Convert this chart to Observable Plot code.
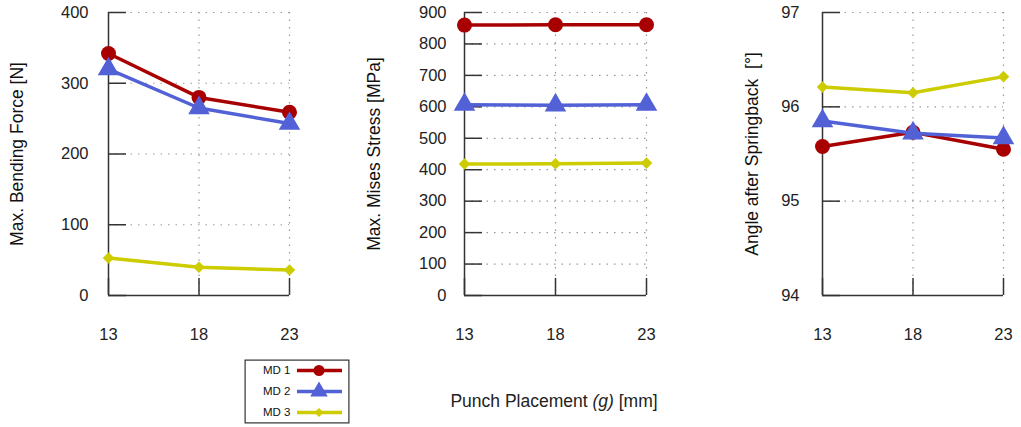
<!DOCTYPE html>
<html>
<head>
<meta charset="utf-8">
<script src="https://cdn.jsdelivr.net/npm/d3@7"></script>
<script src="https://cdn.jsdelivr.net/npm/@observablehq/plot@0.6"></script>
<style>
  body { margin: 0; background: #fff; }
  #chart { position: relative; width: 1021px; height: 427px; background: #fff; font-family: "Liberation Sans", Arial, sans-serif; }
  .panel { position: absolute; top: 0; }
  #legend { position: absolute; left: 244px; top: 359px; }
  #xtitle { position: absolute; left: 554px; top: 391px; transform: translateX(-50%); font-size: 17.5px; color: #222; white-space: nowrap; }
</style>
</head>
<body>
<div id="chart">
  <div id="p1" class="panel" style="left:0px"></div>
  <div id="p2" class="panel" style="left:340px"></div>
  <div id="p3" class="panel" style="left:680px"></div>
  <div id="legend"></div>
  <div id="xtitle">Punch Placement <i>(g)</i> [mm]</div>
</div>
<script>
// ---- data ----
const positions = [13, 18, 23];
const series = ["MD 1", "MD 2", "MD 3"];
const colors = ["#a80000", "#5262d6", "#cccc00"];
const symbols = ["circle", "triangle", "diamond2"];

const forceMD1 = [342, 280, 259];
const forceMD2 = [320, 265, 243];
const forceMD3 = [53, 40, 36];

const stressMD1 = [860, 861, 861];
const stressMD2 = [607, 605, 607];
const stressMD3 = [418, 419, 421];

const angleMD1 = [95.58, 95.73, 95.55];
const angleMD2 = [95.85, 95.72, 95.67];
const angleMD3 = [96.21, 96.15, 96.32];

const forceTicks = [0, 100, 200, 300, 400];
const stressTicks = [0, 100, 200, 300, 400, 500, 600, 700, 800, 900];
const angleTicks = [94, 95, 96, 97];

const titles = ["Max. Bending Force [N]", "Max. Mises Stress [MPa]", "Angle after Springback  [°]"];

// ---- drawing ----
const dotR = [7.5, 8, 5.2];
const font = "'Liberation Sans', Arial, sans-serif";

function panel(el, {width, ml, mr, values, ticks, title, titleDx, tickPad}) {
  const H = 350, mt = 12, mb = 55;
  const pw = width - ml - mr, ph = H - mt - mb;
  const domain = [ticks[0], ticks[ticks.length - 1]];
  const marks = [
    Plot.gridY(ticks.slice(1), {stroke: "#9a9a9a", strokeOpacity: 1, strokeWidth: 1.2, strokeDasharray: "1.5,6"}),
    Plot.gridX(positions.slice(1), {stroke: "#9a9a9a", strokeOpacity: 1, strokeWidth: 1.2, strokeDasharray: "1.5,6"}),
    Plot.ruleX([positions[0]], {stroke: "#333", strokeWidth: 1.5}),
    Plot.ruleY([domain[0]], {stroke: "#333", strokeWidth: 1.5}),
    Plot.tickY(ticks, {y: d => d, stroke: "#333", strokeWidth: 1.5, insetRight: pw - 18}),
    Plot.tickX(positions, {x: d => d, stroke: "#333", strokeWidth: 1.5, insetTop: ph - 17}),
    Plot.axisY(ticks, {tickSize: 0, tickPadding: tickPad, tickFormat: d => String(d), label: null, fontSize: 16.5, fill: "#222"}),
    Plot.axisX(positions, {tickSize: 0, tickPadding: 33, tickFormat: d => String(d), label: null, fontSize: 16.5, fill: "#222"})
  ];
  series.forEach((s, i) => {
    const rows = positions.map((p, j) => ({x: p, y: values[i][j]}));
    marks.push(Plot.line(rows, {x: "x", y: "y", stroke: colors[i], strokeWidth: 3.5}));
    marks.push(Plot.dot(rows, {x: "x", y: "y", fill: colors[i], symbol: symbols[i], r: dotR[i], stroke: "none"}));
  });
  marks.push(Plot.text([title], {text: d => d, frameAnchor: "left", textAnchor: "middle", rotate: -90, dx: titleDx, fontSize: 17.5, fill: "#111"}));
  const chart = Plot.plot({
    width, height: H,
    marginLeft: ml, marginRight: mr, marginTop: mt, marginBottom: mb,
    x: {domain: [13, 23], axis: null},
    y: {domain, axis: null},
    style: {fontFamily: font, background: "transparent", overflow: "visible"},
    marks
  });
  el.appendChild(chart);
}

panel(document.getElementById("p1"), {width: 340, ml: 108, mr: 51, values: [forceMD1, forceMD2, forceMD3], ticks: forceTicks, title: titles[0], titleDx: -91, tickPad: 20});
panel(document.getElementById("p2"), {width: 340, ml: 124, mr: 34, values: [stressMD1, stressMD2, stressMD3], ticks: stressTicks, title: titles[1], titleDx: -90, tickPad: 18});
panel(document.getElementById("p3"), {width: 341, ml: 142, mr: 18, values: [angleMD1, angleMD2, angleMD3], ticks: angleTicks, title: titles[2], titleDx: -70, tickPad: 23});

// legend
const legendR = [5.5, 6.5, 4];
const legendMarks = [Plot.frame({stroke: "#333", strokeWidth: 1.2, inset: 0.6})];
series.forEach((s, i) => {
  legendMarks.push(Plot.ruleY([s], {y: d => d, stroke: colors[i], strokeWidth: 3.5, insetLeft: 53, insetRight: 7}));
  legendMarks.push(Plot.dot([s], {y: d => d, frameAnchor: "middle", dx: 22, fill: colors[i], symbol: symbols[i], r: legendR[i], stroke: "none"}));
});
legendMarks.push(Plot.text(series, {y: d => d, text: d => d, frameAnchor: "left", textAnchor: "end", dx: 46, fontSize: 11.5, fill: "#111"}));
document.getElementById("legend").appendChild(Plot.plot({
  width: 105, height: 64, margin: 0,
  y: {type: "point", domain: series, padding: 0.5, axis: null},
  style: {fontFamily: font, background: "#fff", overflow: "visible"},
  marks: legendMarks
}));
</script>
</body>
</html>
